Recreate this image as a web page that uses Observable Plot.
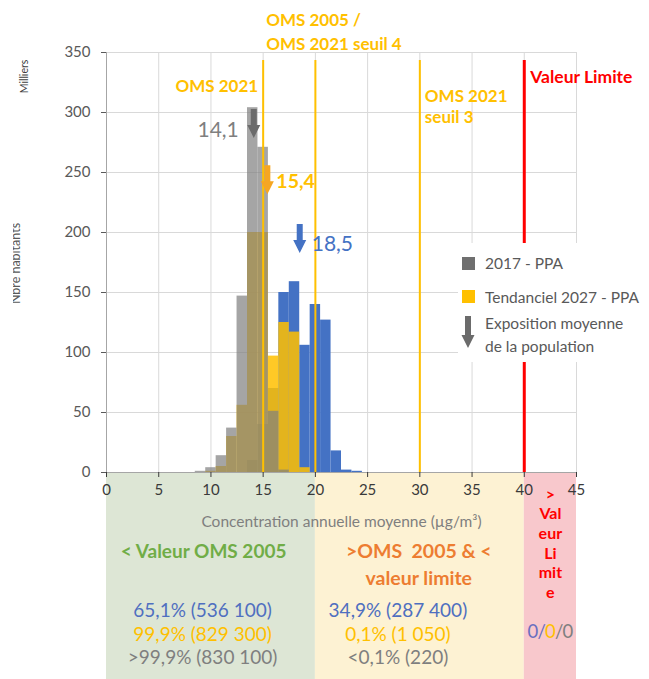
<!DOCTYPE html>
<html>
<head>
<meta charset="utf-8">
<script src="https://cdn.jsdelivr.net/npm/d3@7"></script>
<script src="https://cdn.jsdelivr.net/npm/@observablehq/plot@0.6"></script>
<style>
  body { margin: 0; background: #fff; font-family: Lato, "Open Sans", sans-serif; }
  #wrap { position: relative; width: 649px; height: 679px; }
  #legend { position: absolute; left: 458px; top: 243px; width: 191px; height: 119px; background: #fff; color: #595959; font-size: 15.5px; }
  #legend .sw { position: absolute; left: 4px; width: 13px; height: 13px; }
  #legend .lb { position: absolute; left: 27px; white-space: nowrap; line-height: 18px; }
  #ycut { position: absolute; left: 0; top: 180px; width: 13px; height: 170px; background: #fff; }
</style>
</head>
<body>
<div id="wrap"></div>
<script>
// ---------- data ----------
const bins        = [9, 10, 11, 12, 13, 14, 15, 16, 17, 18, 19, 20, 21, 22, 23, 24];
const serieBlue   = [0, 0, 0, 0, 0, 10, 40, 70, 150, 159, 106, 140, 127, 18, 2, 1];
const serieYellow = [0, 1, 5, 30, 56, 200, 200, 97, 125, 117, 4, 0, 0, 0, 0, 0];
const serieGrey   = [1, 4, 14, 37, 147, 304, 271, 51, 2, 0, 0, 0, 0, 0, 0, 0];

const xTicks = [0, 5, 10, 15, 20, 25, 30, 35, 40, 45];
const yTicks = [0, 50, 100, 150, 200, 250, 300, 350];

const thresholdX      = [15, 20, 30, 40];
const thresholdColors = ["#FFC000", "#FFC000", "#FFC000", "#FF0000"];

const meanValues = [14.1, 15.4, 18.5];
const meanLabels = ["14,1", "15,4", "18,5"];
const meanTops   = [303, 256, 207];
const meanLabelY = [285, 242, 190];
const meanColors = ["#6b6b6b", "#F5A623", "#4472C4"];
const meanTextColors = ["#7f7f7f", "#FFC000", "#4472C4"];

const zoneX1 = [0, 20, 40];
const zoneX2 = [20, 40, 45];
const zoneColors = ["#dde6d5", "#fdf2d3", "#f8c8cc"];

const statsLow  = ["65,1% (536 100)", "99,9% (829 300)", ">99,9% (830 100)"];
const statsMid  = ["34,9% (287 400)", "0,1% (1 050)", "<0,1% (220)"];
const statColors = ["#4f6fc0", "#FFC000", "#7f7f7f"];
const limitGlyphs = ["0", "/", "0", "/", "0"];
const limitGlyphColors = ["#6a6fc0", "#6a6fc0", "#FFC000", "#7f7f7f", "#7f7f7f"];

// ---------- build tables ----------
const table = bins.map((b, i) => ({bin: b, blue: serieBlue[i], yellow: serieYellow[i], grey: serieGrey[i]}));
const thresholds = thresholdX.map((x, i) => ({x, color: thresholdColors[i]}));
const means = meanValues.map((v, i) => ({value: v, label: meanLabels[i], top: meanTops[i], ly: meanLabelY[i], color: meanColors[i], tcolor: meanTextColors[i]}));
const zones = zoneX1.map((x1, i) => ({x1, x2: zoneX2[i], color: zoneColors[i]}));
const stats = [
  ...statsLow.map((t, i) => ({x: 9.2, text: t, row: i, color: statColors[i]})),
  ...statsMid.map((t, i) => ({x: 27.9, text: t, row: i, color: statColors[i]}))
];

// ---------- layout ----------
const W = 649, H = 679, mL = 106, mR = 73, mT = 52, mB = 207;
const plotH = H - mT - mB;
const yBottom = -mB * 350 / plotH;

const blockArrow = {
  draw(ctx, l) {
    const sw = 3, hw = 6.5, hl = 13;
    ctx.moveTo(-sw, 0);
    ctx.lineTo(-sw, -(l - hl));
    ctx.lineTo(-hw, -(l - hl));
    ctx.lineTo(0, -l);
    ctx.lineTo(hw, -(l - hl));
    ctx.lineTo(sw, -(l - hl));
    ctx.lineTo(sw, 0);
    ctx.closePath();
  }
};

const glyphOffsets = [-17.5, -8.7, 0, 8.7, 17.5];
const glyphMarks = limitGlyphs.map((g, i) =>
  Plot.text([g], {x: 42.5, y: 0, dx: glyphOffsets[i], dy: 160, fill: limitGlyphColors[i], fontSize: 18.5})
);

const lineLabel = {textAnchor: "start", fill: "#FFC000", fontWeight: "bold", fontSize: 17};

const plot = Plot.plot({
  width: W, height: H,
  marginLeft: mL, marginRight: mR, marginTop: mT, marginBottom: mB,
  x: {domain: [0, 45]},
  y: {domain: [0, 350]},
  color: {type: "identity"},
  style: {fontFamily: "Lato, 'Open Sans', sans-serif", background: "#fff", overflow: "visible"},
  marks: [
    // zones under the chart
    Plot.rect(zones, {x1: "x1", x2: "x2", y1: 0, y2: yBottom, fill: "color"}),
    // grid
    Plot.gridX({ticks: xTicks, stroke: "#d9d9d9", strokeOpacity: 1}),
    Plot.gridY({ticks: yTicks, stroke: "#d9d9d9", strokeOpacity: 1}),
    // histograms
    Plot.rectY(table, {x1: d => d.bin - 0.5, x2: d => d.bin + 0.5, y: "blue", fill: "#4472C4"}),
    Plot.rectY(table, {x1: d => d.bin - 0.5, x2: d => d.bin + 0.5, y: "yellow", fill: "#FFC000", fillOpacity: 0.85}),
    Plot.rectY(table, {x1: d => d.bin - 0.5, x2: d => d.bin + 0.5, y: "grey", fill: "#7f7f7f", fillOpacity: 0.7}),
    // axes lines
    Plot.ruleY([0], {stroke: "#a6a6a6"}),
    Plot.ruleX([0], {stroke: "#a6a6a6"}),
    // threshold lines
    Plot.ruleX(thresholds.filter(d => d.x !== 40), {x: "x", y1: 0, y2: 350, stroke: "color", strokeWidth: 2, insetBottom: -8}),
    Plot.ruleX(thresholds.filter(d => d.x === 40), {x: "x", y1: 0, y2: 350, stroke: "color", strokeWidth: 3, insetBottom: -8}),
    // threshold labels
    Plot.text(["OMS 2021"], {x: 15, y: 350, dx: -5, dy: 34, ...lineLabel, textAnchor: "end"}),
    Plot.text(["OMS 2005 /"], {x: 15, y: 350, dx: 3, dy: -32, ...lineLabel}),
    Plot.text(["OMS 2021 seuil 4"], {x: 15, y: 350, dx: 3, dy: -8, ...lineLabel}),
    Plot.text(["OMS 2021"], {x: 30, y: 350, dx: 5, dy: 44, ...lineLabel}),
    Plot.text(["seuil 3"], {x: 30, y: 350, dx: 5, dy: 65, ...lineLabel}),
    Plot.text(["Valeur Limite"], {x: 40, y: 350, dx: 6, dy: 25, ...lineLabel, fill: "#FF0000", fontSize: 17.5}),
    // mean exposure arrows
    Plot.vector(means, {x: "value", y: "top", length: 29, rotate: 180, anchor: "start", shape: blockArrow, fill: "color", stroke: "none"}),
    Plot.text(means.slice(0, 1), {x: "value", y: "ly", text: "label", dx: -15, textAnchor: "end", fill: "tcolor", fontSize: 21}),
    Plot.text(means.slice(1, 2), {x: "value", y: "ly", text: "label", dx: 9, textAnchor: "start", fill: "tcolor", fontSize: 19.5, fontWeight: "bold"}),
    Plot.text(means.slice(2), {x: "value", y: "ly", text: "label", dx: 12, textAnchor: "start", fill: "tcolor", fontSize: 21}),
    // axes
    Plot.axisY({ticks: yTicks, tickSize: 5, tickPadding: 11, fontSize: 15, color: "#595959", label: null}),
    Plot.axisX({ticks: xTicks, tickSize: 5, tickPadding: 7, fontSize: 15, color: "#3a3a3a", label: null}),
    // axis titles
    Plot.text(["Milliers"], {frameAnchor: "top-left", dx: -82, dy: 24, rotate: -90, textAnchor: "middle", lineAnchor: "middle", fontSize: 10.5, fill: "#404040"}),
    Plot.text(["Nbre habitants"], {frameAnchor: "left", dx: -90.5, dy: 1, rotate: -90, textAnchor: "middle", lineAnchor: "middle", fontSize: 12.5, fill: "#595959"}),
    Plot.text(["Concentration annuelle moyenne (µg/m³)"], {x: 22.5, y: 0, dy: 50, fontSize: 15.5, fill: "#7f7f7f"}),
    // zone headers
    Plot.text(["< Valeur OMS 2005"], {x: 9.3, y: 0, dy: 79, fontSize: 19, fill: "#70AD47", fontWeight: "bold"}),
    Plot.text([">OMS  2005 & <"], {x: 29.9, y: 0, dy: 79, fontSize: 19.5, fill: "#ED7D31", fontWeight: "bold"}),
    Plot.text(["valeur limite"], {x: 29.9, y: 0, dy: 106, fontSize: 19.5, fill: "#ED7D31", fontWeight: "bold"}),
    Plot.text([">\nVal\neur\nLi\nmit\ne"], {x: 42.5, y: 0, dy: 70, lineAnchor: "middle", lineHeight: 1.22, fontSize: 16, fill: "#FF0000", fontWeight: "bold"}),
    // stats
    Plot.text(stats, {x: "x", y: 0, text: "text", fill: "color", fontSize: 19, filter: d => d.row === 0, dy: 138}),
    Plot.text(stats, {x: "x", y: 0, text: "text", fill: "color", fontSize: 19, filter: d => d.row === 1, dy: 162}),
    Plot.text(stats, {x: "x", y: 0, text: "text", fill: "color", fontSize: 19, filter: d => d.row === 2, dy: 185}),
    ...glyphMarks
  ]
});

document.getElementById("wrap").appendChild(plot);

// y title is partly cut off in the original
const cut = document.createElement("div");
cut.id = "ycut";
document.getElementById("wrap").appendChild(cut);

// legend
const legend = document.createElement("div");
legend.id = "legend";
legend.innerHTML = `
  <div class="sw" style="top:14px;background:#6f6f6f"></div>
  <div class="lb" style="top:11px">2017 - PPA</div>
  <div class="sw" style="top:47px;background:#FFC000"></div>
  <div class="lb" style="top:45px">Tendanciel 2027 - PPA</div>
  <svg style="position:absolute;left:3px;top:73px" width="14" height="33"><path d="M4,0 L10,0 L10,19 L13.5,19 L7,32 L0.5,19 L4,19 Z" fill="#6b6b6b"/></svg>
  <div class="lb" style="top:71px">Exposition moyenne</div>
  <div class="lb" style="top:94px">de la population</div>`;
document.getElementById("wrap").appendChild(legend);
</script>
</body>
</html>
